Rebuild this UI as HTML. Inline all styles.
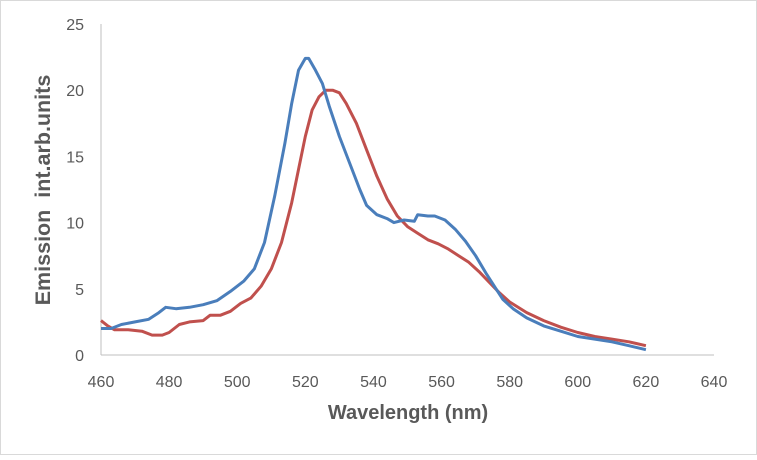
<!DOCTYPE html>
<html><head><meta charset="utf-8"><style>
body{margin:0;background:#fff}
svg text{font-family:"Liberation Sans",sans-serif}
</style></head><body>
<svg width="757" height="455" id="c">
<rect x="0.5" y="0.5" width="756" height="454" fill="#fff" stroke="#d9d9d9"/>
<g id="axes"></g>
<g id="series"></g>
<text x="408" y="419" text-anchor="middle" font-size="20" font-weight="bold" fill="#595959">Wavelength (nm)</text>
<text transform="translate(50,190) rotate(-90)" text-anchor="middle" font-size="21.5" font-weight="bold" fill="#595959">Emission&#160; int.arb.units</text>
</svg>
<script>
const xTicks=[460,480,500,520,540,560,580,600,620,640];
const yTicks=[0,5,10,15,20,25];
const blueX=[460,463,466,470,474,477,479,482,486,490,494,498,502,505,508,511,514,516,518,520,521,523,525,527,530,533,536,538,541,544,546,549,552,553,556,558,561,564,567,570,573,576,578,581,585,590,595,600,605,610,615,620];
const blueY=[2.0,2.0,2.3,2.5,2.7,3.2,3.6,3.5,3.6,3.8,4.1,4.8,5.6,6.5,8.5,12,16,19,21.5,22.4,22.4,21.5,20.5,18.8,16.5,14.5,12.5,11.3,10.6,10.3,10.0,10.2,10.1,10.6,10.5,10.5,10.2,9.5,8.6,7.5,6.2,5.0,4.2,3.5,2.8,2.2,1.8,1.4,1.2,1.0,0.7,0.4];
const redX=[460,462,464,468,472,475,478,480,483,486,490,492,495,498,501,504,507,510,513,516,518,520,522,524,526,528,530,532,535,538,541,544,547,550,553,556,559,562,565,568,571,574,577,580,585,590,595,600,605,610,615,620];
const redY=[2.6,2.2,1.9,1.9,1.8,1.5,1.5,1.7,2.3,2.5,2.6,3.0,3.0,3.3,3.9,4.3,5.2,6.5,8.5,11.5,14,16.5,18.5,19.5,20.0,20.0,19.8,19.0,17.5,15.5,13.5,11.8,10.5,9.7,9.2,8.7,8.4,8.0,7.5,7.0,6.3,5.5,4.7,4.0,3.2,2.6,2.1,1.7,1.4,1.2,1.0,0.7];
const X0=101,X1=714,Y0=355,Y1=24;
const sx=v=>X0+(v-460)/180*(X1-X0);
const sy=v=>Y0-v/25*(Y0-Y1);
const NS="http://www.w3.org/2000/svg";
const axes=document.getElementById('axes');
function mk(t,a,p){const e=document.createElementNS(NS,t);for(const k in a)e.setAttribute(k,a[k]);p.appendChild(e);return e;}
let l=mk('line',{x1:X0,y1:Y0,x2:X1,y2:Y0,stroke:'#bfbfbf','stroke-width':1},axes);


l=mk('line',{x1:X0,y1:Y0,x2:X0,y2:Y1,stroke:'#bfbfbf','stroke-width':1},axes);


xTicks.forEach(v=>{const t=mk('text',{x:sx(v),y:387,'text-anchor':'middle','font-size':16,fill:'#595959'},axes);t.textContent=v;

});
yTicks.forEach(v=>{const t=mk('text',{x:84,y:sy(v)+6,'text-anchor':'end','font-size':16,fill:'#595959'},axes);t.textContent=v;

});
const ser=document.getElementById('series');
function line(xs,ys,col,name){const d=xs.map((x,i)=>(i?'L':'M')+sx(x).toFixed(1)+','+sy(ys[i]).toFixed(1)).join('');
const p=mk('path',{d:d,fill:'none',stroke:col,'stroke-width':3,'stroke-linejoin':'round'},ser);

}
line(redX,redY,'#c0504d','red-series-line');
line(blueX,blueY,'#4a7ebb','blue-series-line');
</script>
</body></html>
